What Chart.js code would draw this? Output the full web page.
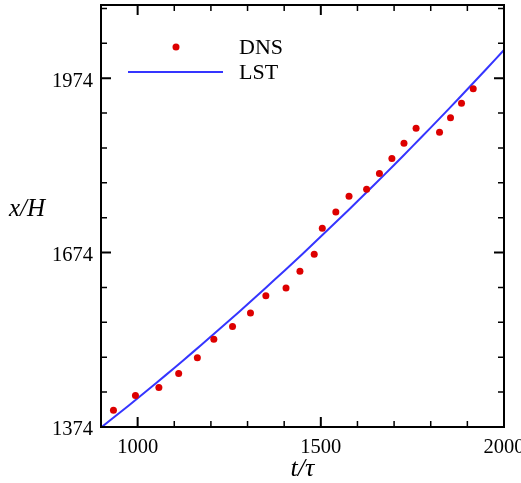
<!DOCTYPE html>
<html>
<head>
<meta charset="utf-8">
<script src="https://cdn.jsdelivr.net/npm/chart.js@4/dist/chart.umd.min.js"></script>
<style>
  html, body { margin: 0; padding: 0; background: #fff; }
  #wrap { width: 521px; height: 483px; }
</style>
</head>
<body>
<div id="wrap"><canvas id="chart" width="521" height="483"></canvas></div>
<script>
// DNS samples (t/tau, x/H)
const dnsT = [934, 994, 1058, 1112, 1163, 1208, 1259, 1308, 1350, 1405, 1443, 1482,
              1504, 1541, 1577, 1625, 1660, 1694, 1727, 1760, 1824, 1854, 1884, 1916];
const dnsX = [1403, 1428, 1442, 1466, 1493, 1525, 1547, 1570, 1600, 1613, 1642, 1671,
              1716, 1744, 1771, 1783, 1810, 1836, 1862, 1888, 1881, 1906, 1931, 1956];

// LST curve
const lstT = [900, 950, 1000, 1050, 1100, 1150, 1200, 1250, 1300, 1350, 1400, 1450,
              1500, 1550, 1600, 1650, 1700, 1750, 1800, 1850, 1900, 1950, 2000];
const lstX = [1373, 1398, 1423.5, 1449.3, 1475.6, 1502.4, 1529.5, 1557.1, 1585.2, 1613.6, 1642.5, 1671.8,
              1701.6, 1731.7, 1762.3, 1793.4, 1824.8, 1856.7, 1889.1, 1921.8, 1955, 1988.6, 2022.7];

// axis ticks
const xTicks = [900, 1000, 1100, 1200, 1300, 1400, 1500, 1600, 1700, 1800, 1900, 2000];
const xLabels = [1000, 1500, 2000];
const yTicks = [1374, 1434, 1494, 1554, 1614, 1674, 1734, 1794, 1854, 1914, 1974, 2034, 2094];
const yLabels = [1374, 1674, 1974];

const serif = '"Liberation Serif", "Times New Roman", serif';

// box, inward ticks on all sides, legend and axis titles
const frame = {
  id: 'frame',
  afterDatasetsDraw(chart) {
    const { ctx, chartArea: a, scales: { x, y } } = chart;
    ctx.save();
    ctx.strokeStyle = '#000';

    xTicks.forEach(v => {
      const px = x.getPixelForValue(v);
      const major = xLabels.includes(v);
      const len = major ? 10 : 6;
      ctx.lineWidth = major ? 2 : 1.5;
      ctx.beginPath();
      ctx.moveTo(px, a.bottom); ctx.lineTo(px, a.bottom - len);
      ctx.moveTo(px, a.top); ctx.lineTo(px, a.top + len);
      ctx.stroke();
    });
    yTicks.forEach(v => {
      const py = y.getPixelForValue(v);
      const major = yLabels.includes(v);
      const len = major ? 10 : 6;
      ctx.lineWidth = major ? 2 : 1.5;
      ctx.beginPath();
      ctx.moveTo(a.left, py); ctx.lineTo(a.left + len, py);
      ctx.moveTo(a.right, py); ctx.lineTo(a.right - len, py);
      ctx.stroke();
    });

    ctx.lineWidth = 2;
    ctx.strokeRect(a.left, a.top, a.right - a.left, a.bottom - a.top);

    // legend
    const ds = chart.data.datasets;
    ctx.fillStyle = ds[0].backgroundColor;
    ctx.beginPath();
    ctx.arc(176, 47, 3.5, 0, Math.PI * 2);
    ctx.fill();
    ctx.strokeStyle = ds[1].borderColor;
    ctx.lineWidth = 2;
    ctx.beginPath();
    ctx.moveTo(128, 72); ctx.lineTo(223, 72);
    ctx.stroke();
    ctx.fillStyle = '#000';
    ctx.font = '22px ' + serif;
    ctx.textAlign = 'left';
    ctx.textBaseline = 'alphabetic';
    ctx.fillText(ds[0].label, 239, 54);
    ctx.fillText(ds[1].label, 239, 79);

    // axis titles
    ctx.font = 'italic 25px ' + serif;
    ctx.fillText('x/H', 9, 216);
    ctx.textAlign = 'center';
    ctx.font = 'italic 26px ' + serif;
    ctx.fillText('t/\u03c4', (a.left + a.right) / 2, 476);
    ctx.restore();
  }
};

new Chart(document.getElementById('chart'), {
  type: 'scatter',
  data: {
    datasets: [
      {
        label: 'DNS',
        data: dnsT.map((t, i) => ({ x: t, y: dnsX[i] })),
        backgroundColor: '#dd0000',
        borderWidth: 0,
        pointRadius: 3.5
      },
      {
        label: 'LST',
        type: 'line',
        data: lstT.map((t, i) => ({ x: t, y: lstX[i] })),
        borderColor: '#3535ff',
        borderWidth: 2,
        pointRadius: 0,
        fill: false,
        tension: 0.3
      }
    ]
  },
  options: {
    responsive: false,
    animation: false,
    devicePixelRatio: 1,
    layout: { padding: { top: 5, right: 17, left: 0, bottom: 0 } },
    plugins: { legend: { display: false }, tooltip: { enabled: false } },
    scales: {
      x: {
        type: 'linear',
        min: 900,
        max: 2000,
        grid: { display: false, drawTicks: false },
        border: { display: false },
        afterBuildTicks: s => { s.ticks = xTicks.map(v => ({ value: v })); },
        afterFit: s => { s.height = 56; s.paddingLeft = 0; s.paddingRight = 0; },
        ticks: {
          autoSkip: false,
          maxRotation: 0,
          padding: 8,
          color: '#000',
          font: { family: serif, size: 20.5 },
          callback: v => xLabels.includes(v) ? String(v) : ''
        }
      },
      y: {
        type: 'linear',
        min: 1374,
        max: 2100,
        grid: { display: false, drawTicks: false },
        border: { display: false },
        afterBuildTicks: s => { s.ticks = yTicks.map(v => ({ value: v })); },
        afterFit: s => { s.width = 101; s.paddingTop = 0; s.paddingBottom = 0; },
        ticks: {
          autoSkip: false,
          padding: 8,
          labelOffset: 3,
          color: '#000',
          font: { family: serif, size: 20.5 },
          callback: v => yLabels.includes(v) ? String(v) : ''
        }
      }
    }
  },
  plugins: [frame]
});
</script>
</body>
</html>
